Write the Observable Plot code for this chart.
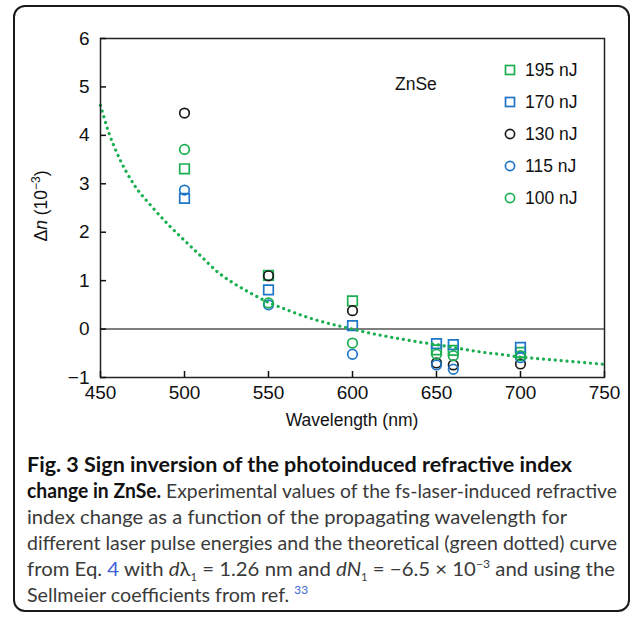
<!DOCTYPE html>
<html><head><meta charset="utf-8">
<script src="https://cdn.jsdelivr.net/npm/d3@7"></script>
<script src="https://cdn.jsdelivr.net/npm/@observablehq/plot@0.6"></script>
<style>
body{margin:0;background:#fff;}
#wrap{position:relative;width:636px;height:617px;overflow:hidden;font-family:"Liberation Sans",Arial,sans-serif;color:#111;}
#border{position:absolute;left:13px;top:5px;width:617px;height:607px;box-sizing:border-box;border:2px solid #1a1a1a;border-radius:12px;}
#chart{position:absolute;left:0;top:0;}
#ylab{position:absolute;left:41px;top:206px;transform:translate(-50%,-50%) rotate(-90deg);font-size:17.5px;white-space:nowrap;}
#ylab sup{font-size:12px;vertical-align:7px;line-height:0}
#xlab{position:absolute;left:352px;top:420px;transform:translate(-50%,-50%);font-size:17.5px;white-space:nowrap;}
#znse{position:absolute;left:395px;top:84px;transform:translateY(-50%);font-size:17.5px;}
#legend{position:absolute;left:503px;top:54px;}
.row{height:32px;display:flex;align-items:center;font-size:17.5px;}
.row svg{margin-right:8px;}
#caption{position:absolute;left:27px;top:451px;font-family:Lato,"Open Sans",sans-serif;font-size:20px;line-height:26px;color:#3a3a3a;white-space:nowrap;}
#caption .ln{display:block;width:max-content;transform-origin:0 50%;}
#caption b{color:#111;}
.lnk{color:#3b5fd6;}
#caption sub{font-size:11px;line-height:0;}
#caption sup{font-size:12px;line-height:0;}
</style></head>
<body>
<div id="wrap">
<div id="border"></div>
<div id="chart"></div>
<div id="ylab">Δ<i>n</i> (10<sup>−3</sup>)</div>
<div id="xlab">Wavelength (nm)</div>
<div id="znse">ZnSe</div>
<div id="legend"></div>
<div id="caption">
<span class="ln"><b>Fig. 3 Sign inversion of the photoinduced refractive index</b></span>
<span class="ln"><b>change in ZnSe.</b> Experimental values of the fs-laser-induced refractive</span>
<span class="ln">index change as a function of the propagating wavelength for</span>
<span class="ln">different laser pulse energies and the theoretical (green dotted) curve</span>
<span class="ln">from Eq. <span class="lnk">4</span> with <i>d</i>λ<sub>1</sub> = 1.26 nm and <i>dN</i><sub>1</sub> = −6.5 × 10<sup>−3</sup> and using the</span>
<span class="ln">Sellmeier coefficients from ref. <sup class="lnk">33</sup></span>
</div>
</div>
<script>
// ---- data ----
const wavelengths = [500, 550, 600, 650, 660, 700];
const e195 = [3.31, 1.11, 0.58, -0.43, -0.44, -0.48];
const e170 = [2.70, 0.81, 0.07, -0.30, -0.32, -0.38];
const e130 = [4.46, 1.10, 0.38, -0.70, -0.74, -0.72];
const e115 = [2.87, 0.50, -0.52, -0.74, -0.83, -0.59];
const e100 = [3.71, 0.54, -0.29, -0.52, -0.55, -0.55];
const seriesNames = ["195 nJ", "170 nJ", "130 nJ", "115 nJ", "100 nJ"];
const curveWl = [450, 455, 460, 470, 480, 490, 500, 510, 520, 530, 540, 550, 560, 570, 580, 590, 600, 610, 620, 630, 640, 650, 660, 670, 680, 690, 700, 710, 720, 730, 740, 750];
const curveDn = [4.62, 4.05, 3.62, 2.98, 2.55, 2.17, 1.83, 1.50, 1.17, 0.93, 0.73, 0.55, 0.41, 0.28, 0.17, 0.08, 0.00, -0.08, -0.15, -0.21, -0.27, -0.32, -0.38, -0.44, -0.49, -0.53, -0.58, -0.61, -0.64, -0.67, -0.70, -0.73];
const xTicks = [450, 500, 550, 600, 650, 700, 750];
const yTicks = [-1, 0, 1, 2, 3, 4, 5, 6];

const GREEN = "#1aaf50", BLUE = "#1f76c9", BLACK = "#1a1a1a";
const styles = [
  {vals: e195, symbol: "square", color: GREEN},
  {vals: e170, symbol: "square", color: BLUE},
  {vals: e130, symbol: "circle", color: BLACK},
  {vals: e115, symbol: "circle", color: BLUE},
  {vals: e100, symbol: "circle", color: GREEN}
];
const curve = curveWl.map((w, i) => ({wl: w, dn: curveDn[i]}));
const fmt = d => (d < 0 ? "\u2212" + Math.abs(d) : String(d));

const dotMarks = styles.map(s => Plot.dot(
  wavelengths.map((w, i) => ({wl: w, dn: s.vals[i]})),
  {x: "wl", y: "dn", symbol: s.symbol, stroke: s.color, strokeWidth: 1.7, fill: "none",
   r: s.symbol === "square" ? 5.4 : 4.8}
));

const chart = Plot.plot({
  width: 636, height: 440,
  marginLeft: 100, marginRight: 32, marginTop: 38, marginBottom: 63,
  x: {domain: [450, 750]},
  y: {domain: [-1, 6]},
  style: {fontFamily: "'Liberation Sans', Arial, sans-serif", fontSize: "19px", color: "#111", background: "transparent", overflow: "visible"},
  marks: [
    Plot.ruleY([0], {stroke: "#555", strokeWidth: 1.6}),
    ...dotMarks,
    Plot.line(curve, {x: "wl", y: "dn", stroke: GREEN, strokeWidth: 3.2, strokeDasharray: "0.1 5.8", strokeLinecap: "round", curve: "monotone-x"}),
    Plot.frame({stroke: "#222", strokeWidth: 1.5}),
    Plot.axisX({ticks: xTicks, tickFormat: fmt, tickSize: -6, tickPadding: 14, label: null, strokeWidth: 1.5}),
    Plot.axisY({ticks: yTicks, tickFormat: fmt, tickSize: -6, tickPadding: 17, label: null, strokeWidth: 1.5})
  ]
});
document.getElementById("chart").appendChild(chart);

// legend
const lg = document.getElementById("legend");
styles.forEach((s, i) => {
  const row = document.createElement("div");
  row.className = "row";
  const shape = s.symbol === "square"
    ? `<rect x="2.5" y="2.5" width="9" height="9" fill="none" stroke="${s.color}" stroke-width="1.7"/>`
    : `<circle cx="7" cy="7" r="4.6" fill="none" stroke="${s.color}" stroke-width="1.7"/>`;
  row.innerHTML = `<svg width="14" height="14">${shape}</svg><span>${seriesNames[i]}</span>`;
  lg.appendChild(row);
});

// fit caption lines to the reference line widths (layout only)
const lineWidths = [545, 590, 540, 590, 588, 281];
document.querySelectorAll("#caption .ln").forEach((el, i) => {
  const w = el.getBoundingClientRect().width;
  if (w > 0) el.style.transform = `scaleX(${lineWidths[i] / w})`;
});
</script>
</body></html>
